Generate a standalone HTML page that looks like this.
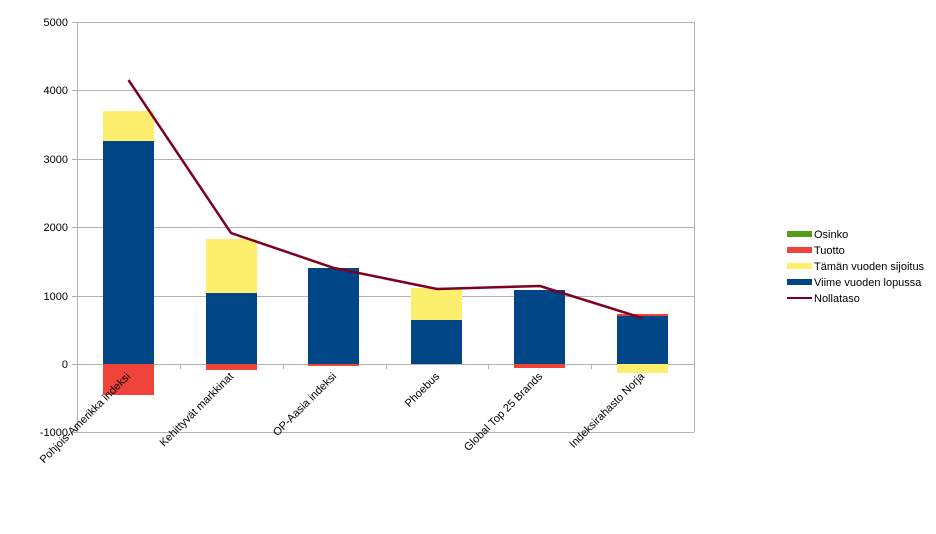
<!DOCTYPE html>
<html><head><meta charset="utf-8"><style>body{margin:0;background:#fff}svg{display:block}</style></head><body>
<svg width="936" height="534" xmlns="http://www.w3.org/2000/svg" font-family="Liberation Sans, sans-serif" font-size="11">
<g stroke="#b3b3b3" stroke-width="1">
<line x1="77" y1="22.5" x2="694" y2="22.5"/>
<line x1="77" y1="90.5" x2="694" y2="90.5"/>
<line x1="77" y1="159.5" x2="694" y2="159.5"/>
<line x1="77" y1="227.5" x2="694" y2="227.5"/>
<line x1="77" y1="296.5" x2="694" y2="296.5"/>
<line x1="77" y1="364.5" x2="694" y2="364.5"/>
<line x1="77" y1="432.5" x2="694" y2="432.5"/>
<line x1="77.5" y1="22" x2="77.5" y2="432"/>
<line x1="694.5" y1="22" x2="694.5" y2="432"/>
<line x1="72" y1="22.5" x2="77" y2="22.5"/><line x1="72" y1="90.5" x2="77" y2="90.5"/><line x1="72" y1="159.5" x2="77" y2="159.5"/><line x1="72" y1="227.5" x2="77" y2="227.5"/><line x1="72" y1="296.5" x2="77" y2="296.5"/><line x1="72" y1="364.5" x2="77" y2="364.5"/><line x1="72" y1="432.5" x2="77" y2="432.5"/>
<line x1="180.5" y1="364" x2="180.5" y2="369"/><line x1="283.5" y1="364" x2="283.5" y2="369"/><line x1="386.5" y1="364" x2="386.5" y2="369"/><line x1="488.5" y1="364" x2="488.5" y2="369"/><line x1="591.5" y1="364" x2="591.5" y2="369"/>
</g>
<g text-anchor="end" fill="#000">
<text x="68" y="26">5000</text><text x="68" y="94">4000</text><text x="68" y="163">3000</text><text x="68" y="231">2000</text><text x="68" y="300">1000</text><text x="68" y="368">0</text><text x="68" y="436">-1000</text>
</g>
<g>
<rect x="103" y="141" width="51" height="223" fill="#004586"/>
<rect x="103" y="111" width="51" height="30" fill="#ffef6f"/>
<rect x="103" y="364" width="51" height="31" fill="#f0433a"/>
<rect x="206" y="293" width="51" height="71" fill="#004586"/>
<rect x="206" y="239" width="51" height="54" fill="#ffef6f"/>
<rect x="206" y="364" width="51" height="6" fill="#f0433a"/>
<rect x="308" y="268" width="51" height="96" fill="#004586"/>
<rect x="308" y="364" width="51" height="2" fill="#f0433a"/>
<rect x="411" y="320" width="51" height="44" fill="#004586"/>
<rect x="411" y="288" width="51" height="32" fill="#ffef6f"/>
<rect x="514" y="290" width="51" height="74" fill="#004586"/>
<rect x="514" y="364" width="51" height="4" fill="#f0433a"/>
<rect x="617" y="316" width="51" height="48" fill="#004586"/>
<rect x="617" y="314" width="51" height="2" fill="#f0433a"/>
<rect x="617" y="364" width="51" height="9" fill="#ffef6f"/>
</g>
<polyline points="128.5,80 231,233 334,268 437,289 540,286 642,318" fill="none" stroke="#7e0021" stroke-width="2.5"/>
<g text-anchor="end" fill="#000">
<text transform="translate(131,377) rotate(-45)">Pohjois-Amerikka indeksi</text>
<text transform="translate(234,377) rotate(-45)">Kehittyvät markkinat</text>
<text transform="translate(337,377) rotate(-45)">OP-Aasia indeksi</text>
<text transform="translate(440,377) rotate(-45)">Phoebus</text>
<text transform="translate(543,377) rotate(-45)">Global Top 25 Brands</text>
<text transform="translate(645,377) rotate(-45)">Indeksirahasto Norja</text>
</g>
<g>
<rect x="787" y="231" width="25" height="6" fill="#579d1c"/>
<rect x="787" y="247" width="25" height="6" fill="#f0433a"/>
<rect x="787" y="263" width="25" height="6" fill="#ffef6f"/>
<rect x="787" y="279" width="25" height="6" fill="#004586"/>
<rect x="787" y="297" width="25" height="2" fill="#7e0021"/>
<text x="814" y="238">Osinko</text>
<text x="814" y="254">Tuotto</text>
<text x="814" y="270">Tämän vuoden sijoitus</text>
<text x="814" y="286">Viime vuoden lopussa</text>
<text x="814" y="302">Nollataso</text>
</g>
</svg>
</body></html>
